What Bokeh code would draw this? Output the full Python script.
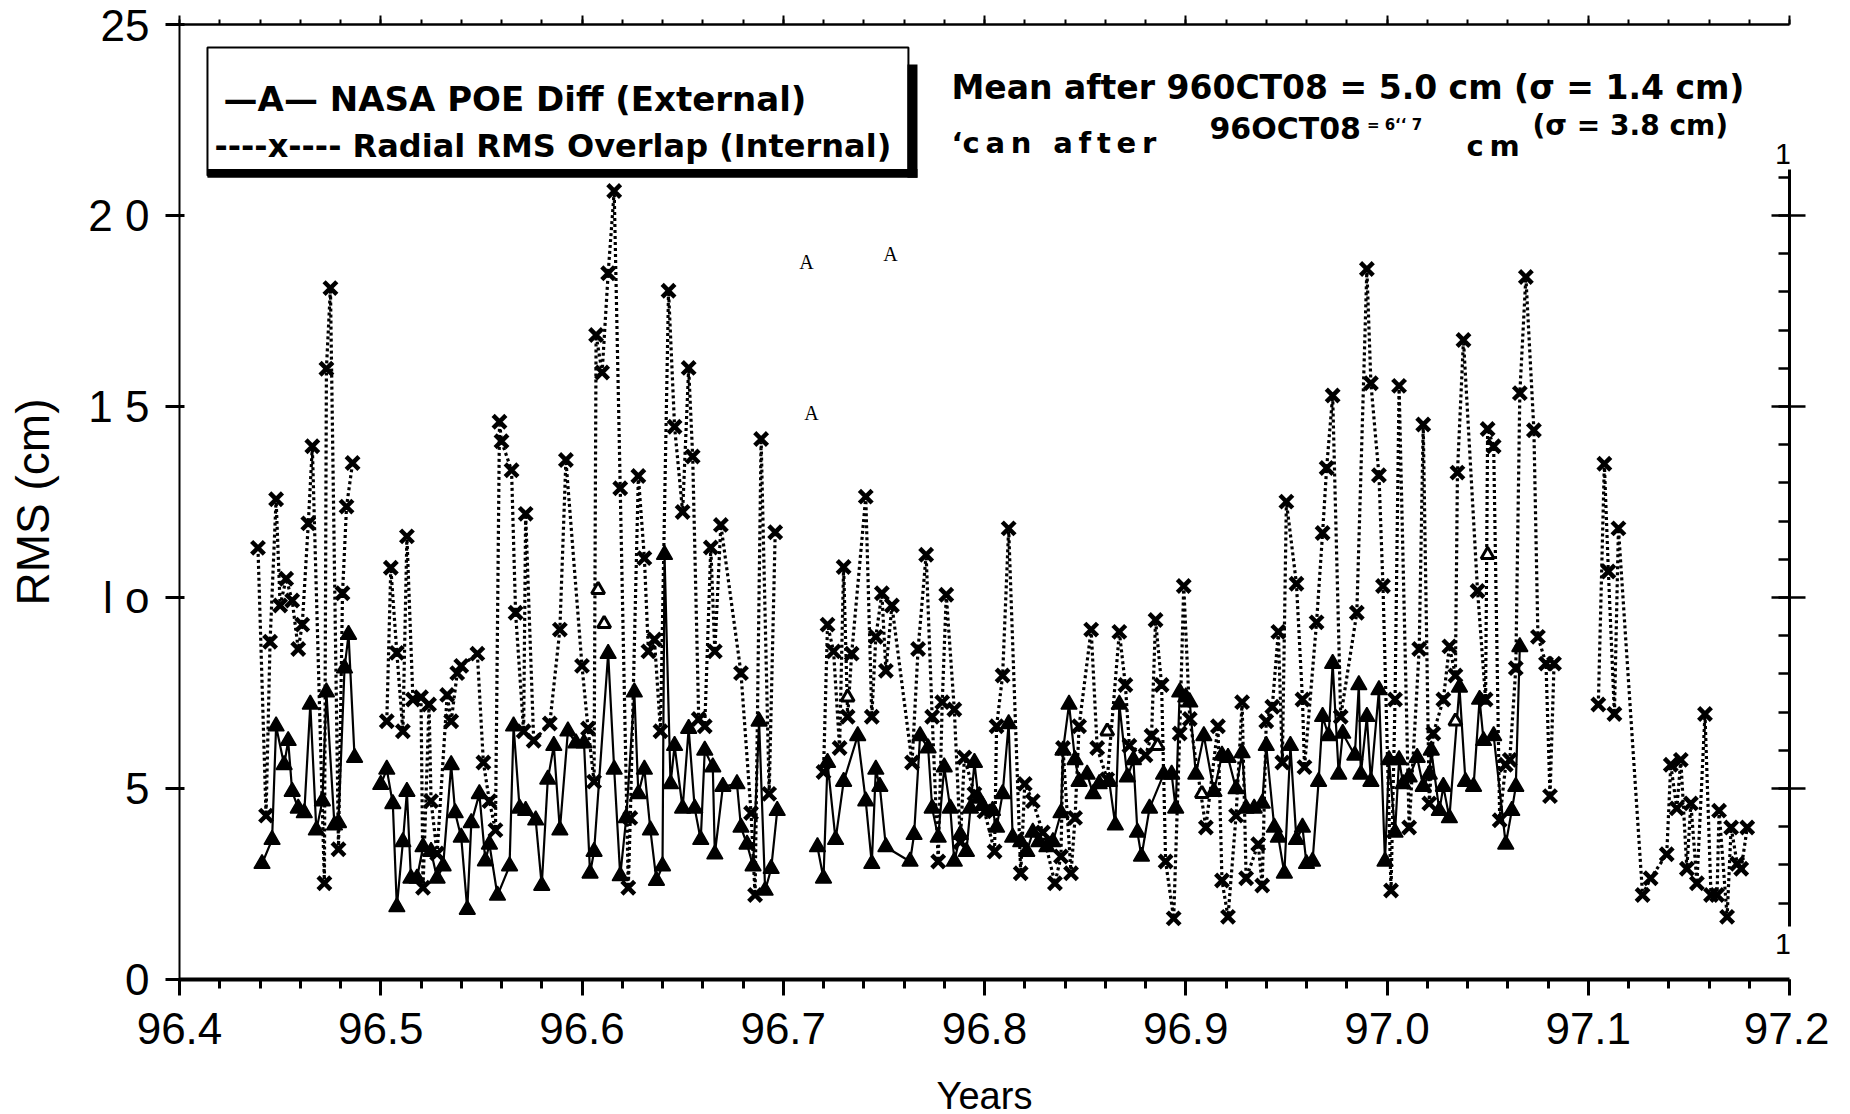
from bokeh.plotting import figure
from bokeh.models import (LinearAxis, Range1d, Label, BoxAnnotation, FixedTicker,
                          NumeralTickFormatter, CustomLabelingPolicy)
from bokeh.embed import file_html
from bokeh.resources import INLINE

# ---------------- data ----------------
overlap_years = [
    96.439, 96.443, 96.445, 96.448, 96.450, 96.453, 96.456, 96.459, 96.461, 96.464,
    96.466, 96.472, 96.473, 96.475, 96.479, 96.481, 96.483, 96.486,
    96.503, 96.505, 96.508, 96.511, 96.513, 96.516, 96.520, 96.521, 96.524, 96.525,
    96.528, 96.533, 96.535, 96.538, 96.540, 96.548, 96.551, 96.554, 96.557, 96.559,
    96.560, 96.565, 96.567, 96.571, 96.572, 96.576, 96.584, 96.589, 96.592, 96.600,
    96.603, 96.606, 96.607, 96.610, 96.613, 96.616, 96.619, 96.623, 96.624, 96.628,
    96.631, 96.633, 96.636, 96.639, 96.643, 96.646, 96.650, 96.653, 96.655, 96.658,
    96.661, 96.664, 96.666, 96.669, 96.679, 96.684, 96.686, 96.689, 96.693, 96.696,
    96.720, 96.722, 96.725, 96.728, 96.730, 96.732, 96.734, 96.741, 96.744, 96.746,
    96.749, 96.751, 96.754, 96.764, 96.767, 96.771, 96.774, 96.777, 96.779, 96.781,
    96.785, 96.788, 96.790, 96.795, 96.800, 96.805, 96.806, 96.809, 96.812, 96.818,
    96.820, 96.824, 96.829, 96.835, 96.838, 96.839, 96.843, 96.845, 96.847, 96.853,
    96.856, 96.861, 96.867, 96.870, 96.872, 96.880, 96.883, 96.885, 96.888, 96.890,
    96.894, 96.897, 96.899, 96.902, 96.910, 96.916, 96.918, 96.921, 96.925, 96.928,
    96.930, 96.936, 96.938, 96.940, 96.943, 96.946, 96.948, 96.950, 96.955, 96.958,
    96.959, 96.965, 96.968, 96.970, 96.973, 96.977, 96.985, 96.990, 96.992, 96.996,
    96.998, 97.002, 97.004, 97.006, 97.011, 97.016, 97.018, 97.021, 97.023, 97.028,
    97.031, 97.034, 97.035, 97.038, 97.045, 97.049, 97.050, 97.053, 97.056, 97.059,
    97.061, 97.064, 97.066, 97.069, 97.073, 97.075, 97.079, 97.081, 97.083,
    97.105, 97.108, 97.110, 97.113, 97.115, 97.127, 97.131, 97.139, 97.141, 97.144,
    97.146, 97.149, 97.151, 97.154, 97.158, 97.161, 97.164, 97.165, 97.169, 97.171,
    97.174, 97.176, 97.179,
]
overlap_rms = [
    11.30, 4.29, 8.84, 12.57, 9.79, 10.49, 9.92, 8.65, 9.29, 11.94,
    13.96, 2.52, 15.99, 18.10, 3.41, 10.11, 12.38, 13.52,
    6.76, 10.78, 8.55, 6.50, 11.60, 7.33, 7.39, 2.40, 7.20, 4.67,
    3.30, 7.45, 6.76, 8.02, 8.21, 8.53, 5.68, 4.67, 3.91, 14.60,
    14.09, 13.33, 9.60, 6.50, 12.19, 6.25, 6.70, 9.16, 13.60, 8.21,
    6.57, 5.18, 16.87, 15.89, 18.49, 20.64, 12.86, 2.40, 4.23, 13.18,
    11.03, 8.59, 8.90, 6.50, 18.03, 14.47, 12.24, 16.01, 13.69, 6.82,
    6.63, 11.31, 8.59, 11.90, 8.02, 4.36, 2.21, 14.15, 4.86, 11.71,
    5.43, 9.29, 8.59, 6.06, 10.80, 6.88, 8.53, 12.64, 6.88, 8.97,
    10.11, 8.08, 9.79, 5.68, 8.65, 11.12, 6.88, 3.09, 7.26, 10.07,
    7.07, 3.60, 5.81, 4.86, 4.40, 3.35, 6.63, 7.96, 11.81, 2.78,
    5.12, 4.67, 3.85, 2.52, 3.22, 6.06, 2.78, 4.23, 6.63, 9.16,
    6.06, 5.24, 9.10, 7.71, 6.12, 5.87, 6.38, 9.41, 7.71, 3.09,
    1.60, 6.44, 10.30, 6.82, 3.98, 6.63, 2.59, 1.64, 4.29, 7.26,
    2.65, 3.54, 2.46, 6.76, 7.14, 9.10, 5.68, 12.51, 10.36, 7.33,
    5.56, 9.35, 11.69, 13.39, 15.29, 6.88, 9.60, 18.60, 15.61, 13.20,
    10.30, 2.33, 7.33, 15.54, 3.98, 8.65, 14.53, 4.61, 6.44, 7.33,
    8.72, 7.96, 13.27, 16.74, 10.17, 7.33, 14.41, 13.96, 4.17, 5.62,
    5.75, 8.15, 15.35, 18.39, 14.38, 8.97, 8.27, 4.80, 8.27,
    7.20, 13.50, 10.68, 6.95, 11.81, 2.21, 2.65, 3.28, 5.62, 4.48,
    5.75, 2.90, 4.61, 2.52, 6.95, 2.21, 2.21, 4.42, 1.64, 3.98,
    3.03, 2.90, 3.98,
]

poe_years = [
    96.441, 96.446, 96.448, 96.452, 96.454, 96.456, 96.459, 96.462, 96.465, 96.468,
    96.471, 96.473, 96.477, 96.479, 96.482, 96.484, 96.487,
    96.500, 96.503, 96.506, 96.508, 96.511, 96.513, 96.515, 96.518, 96.521, 96.525,
    96.528, 96.531, 96.535, 96.537, 96.540, 96.543, 96.545, 96.549, 96.552, 96.554,
    96.558, 96.564, 96.566, 96.569, 96.572, 96.577, 96.580, 96.583, 96.586, 96.589,
    96.593, 96.597, 96.601, 96.604, 96.606, 96.613, 96.616, 96.619, 96.622, 96.626,
    96.628, 96.631, 96.634, 96.637, 96.640, 96.641, 96.644, 96.646, 96.650, 96.653,
    96.656, 96.659, 96.661, 96.665, 96.666, 96.670, 96.677, 96.679, 96.682, 96.685,
    96.688, 96.691, 96.694, 96.697,
    96.717, 96.720, 96.722, 96.726, 96.730, 96.737, 96.741, 96.744, 96.746, 96.748,
    96.751, 96.763, 96.765, 96.768, 96.772, 96.774, 96.777, 96.780, 96.783, 96.785,
    96.788, 96.791, 96.793, 96.795, 96.797, 96.799, 96.804, 96.806, 96.809, 96.812,
    96.814, 96.818, 96.821, 96.824, 96.827, 96.831, 96.834, 96.838, 96.839, 96.842,
    96.845, 96.847, 96.851, 96.854, 96.857, 96.862, 96.865, 96.867, 96.871, 96.874,
    96.876, 96.878, 96.882, 96.889, 96.893, 96.895, 96.897, 96.900, 96.902, 96.905,
    96.909, 96.914, 96.918, 96.921, 96.925, 96.928, 96.930, 96.934, 96.938, 96.940,
    96.944, 96.946, 96.949, 96.952, 96.955, 96.958, 96.960, 96.963, 96.966, 96.968,
    96.971, 96.973, 96.976, 96.978, 96.984, 96.986, 96.987, 96.990, 96.992, 96.996,
    96.999, 97.001, 97.004, 97.006, 97.008, 97.011, 97.015, 97.018, 97.021, 97.022,
    97.026, 97.028, 97.031, 97.036, 97.039, 97.043, 97.046, 97.048, 97.053, 97.059,
    97.062, 97.064, 97.066,
]
poe_rms = [
    3.03, 3.66, 6.63, 5.62, 6.25, 4.92, 4.48, 4.36, 7.20, 3.91,
    4.67, 7.52, 4.04, 4.10, 8.15, 9.03, 5.81,
    5.10, 5.50, 4.60, 1.90, 3.60, 4.92, 2.65, 2.65, 3.47, 3.35,
    2.65, 2.97, 5.62, 4.36, 3.72, 1.83, 4.10, 4.86, 3.10, 3.54,
    2.20, 2.97, 6.63, 4.48, 4.42, 4.17, 2.46, 5.24, 6.12, 3.91,
    6.50, 6.19, 6.19, 2.78, 3.35, 8.53, 5.50, 2.71, 4.23, 7.52,
    4.86, 5.50, 3.91, 2.59, 2.97, 11.12, 5.12, 6.12, 4.48, 6.57,
    4.48, 3.66, 6.00, 5.56, 3.28, 5.05, 5.12, 3.98, 3.54, 2.97,
    6.76, 2.33, 2.90, 4.42,
    3.47, 2.65, 5.68, 3.66, 5.18, 6.38, 4.67, 3.03, 5.50, 5.05,
    3.47, 3.09, 3.79, 6.38, 6.06, 4.48, 3.72, 5.56, 4.48, 3.09,
    3.79, 3.35, 4.48, 5.68, 4.74, 4.55, 4.42, 3.98, 4.86, 6.69,
    3.72, 3.60, 3.35, 3.85, 3.60, 3.47, 3.60, 4.36, 6.00, 7.20,
    5.75, 5.18, 5.37, 4.86, 5.12, 5.18, 4.04, 7.20, 5.30, 5.75,
    3.85, 3.22, 4.48, 5.37, 5.37, 4.48, 7.52, 7.39, 7.26, 5.37,
    6.38, 4.92, 5.87, 5.81, 4.99, 5.93, 4.48, 4.48, 4.61, 6.12,
    3.98, 3.72, 2.78, 6.12, 3.66, 3.98, 3.03, 3.09, 5.18, 6.88,
    6.38, 8.27, 5.37, 6.44, 5.87, 7.71, 5.37, 6.88, 5.18, 7.58,
    3.09, 5.75, 3.85, 5.75, 5.12, 5.30, 5.81, 5.05, 5.37, 6.00,
    4.42, 5.05, 4.23, 7.65, 5.18, 5.05, 7.33, 6.25, 6.38, 3.54,
    4.42, 5.05, 8.71,
]

open_years = [96.608, 96.611, 96.732, 96.861, 96.886, 96.908, 97.034, 97.050]
open_rms = [10.20, 9.31, 7.39, 6.50, 6.12, 4.86, 6.76, 11.12]

x_major_ticks = [96.4, 96.5, 96.6, 96.7, 96.8, 96.9, 97.0, 97.1, 97.2]
y_major_ticks = [0, 5, 10, 15, 20, 25]
y_tick_texts = ["0", "5", "l o", "1 5", "2 0", "25"]

legend_line_1 = "\u2014A\u2014 NASA POE Diff (External)"
legend_line_2 = "----x---- Radial RMS Overlap (Internal)"
note_line_1 = "Mean  after  960CT08  = 5.0 cm (\u03c3 = 1.4 cm)"
note_line_2_parts = ["\u2018c\u2009a\u2009n\u2009\u2009 a\u2009f\u2009t\u2009e\u2009r", "96OCT08",
                     "= 6\u2018\u2018 7", "c\u2009m", "(\u03c3 = 3.8 cm)"]


def split_runs(xs, ys, gap):
    """Break a series into separate runs where the time step is larger than gap."""
    runs_x, runs_y = [[xs[0]]], [[ys[0]]]
    for i in range(1, len(xs)):
        if xs[i] - xs[i - 1] > gap:
            runs_x.append([])
            runs_y.append([])
        runs_x[-1].append(xs[i])
        runs_y[-1].append(ys[i])
    return runs_x, runs_y


def no_labels():
    return CustomLabelingPolicy(code="for (const i of indices) indices.unset(i)")


# ---------------- figure ----------------
p = figure(frame_width=1610, frame_height=955,
           x_range=Range1d(96.4, 97.2), y_range=Range1d(0, 25),
           min_border_left=179, min_border_top=24, min_border_right=40, min_border_bottom=125,
           output_backend="svg", toolbar_location=None)
p.grid.visible = False
p.outline_line_color = None
p.background_fill_color = "white"
p.border_fill_color = "white"

FONT = "Liberation Sans"
minor_x = [round(96.4 + 0.02 * i, 2) for i in range(41)]

# bottom axis
xa = p.xaxis[0]
xa.ticker = FixedTicker(ticks=x_major_ticks, minor_ticks=minor_x)
xa.formatter = NumeralTickFormatter(format="0.0")
xa.axis_line_width = 4
xa.major_tick_in = 0
xa.major_tick_out = 16
xa.major_tick_line_width = 3
xa.minor_tick_in = 0
xa.minor_tick_out = 9
xa.minor_tick_line_width = 3
xa.major_label_text_font = FONT
xa.major_label_text_font_size = "44px"
xa.major_label_text_color = "black"
xa.major_label_standoff = 17
xa.axis_label = "Years"
xa.axis_label_text_font = FONT
xa.axis_label_text_font_size = "38px"
xa.axis_label_text_font_style = "normal"
xa.axis_label_text_color = "black"
xa.axis_label_standoff = 28

# left axis
ya = p.yaxis[0]
ya.ticker = FixedTicker(ticks=y_major_ticks)
ya.major_label_overrides = {t: s for t, s in zip(y_major_ticks, y_tick_texts)}
ya.axis_line_width = 2
ya.major_tick_in = 5
ya.major_tick_out = 14
ya.major_tick_line_width = 3
ya.minor_tick_line_color = None
ya.major_label_text_font = FONT
ya.major_label_text_font_size = "44px"
ya.major_label_text_color = "black"
ya.major_label_standoff = 16
ya.axis_label = "RMS (cm)"
ya.axis_label_text_font = FONT
ya.axis_label_text_font_size = "46px"
ya.axis_label_text_font_style = "normal"
ya.axis_label_text_color = "black"
ya.axis_label_standoff = 26

# top axis (frame line with outward ticks, no labels)
top = LinearAxis(ticker=FixedTicker(ticks=x_major_ticks, minor_ticks=minor_x),
                 axis_line_width=2.5, major_tick_in=0, major_tick_out=9,
                 major_tick_line_width=2, minor_tick_in=0, minor_tick_out=5,
                 minor_tick_line_width=2, major_label_policy=no_labels(),
                 major_label_standoff=0)
p.add_layout(top, "above")

# right axis (partial, ticks across the line, no labels)
right = LinearAxis(bounds=(1.4, 21.2),
                   ticker=FixedTicker(ticks=[5, 10, 15, 20], minor_ticks=list(range(2, 22))),
                   axis_line_width=3, major_tick_in=18, major_tick_out=16,
                   major_tick_line_width=2.5, minor_tick_in=11, minor_tick_out=0,
                   minor_tick_line_width=2.5, major_label_policy=no_labels(),
                   major_label_standoff=0)
p.add_layout(right, "right")

# ---------------- series ----------------
ox, oy = split_runs(overlap_years, overlap_rms, 0.014)
p.multi_line(ox, oy, line_color="black", line_width=3.2, line_dash="3 3")
tx, ty = split_runs(poe_years, poe_rms, 0.0125)
p.multi_line(tx, ty, line_color="black", line_width=2.2)

p.scatter(overlap_years, overlap_rms, marker="x", size=18, line_color="black", line_width=4.5)
p.scatter(poe_years, poe_rms, marker="triangle", size=16, fill_color="black", line_color="black",
          line_width=1.5)
p.scatter(open_years, open_rms, marker="triangle", size=13, fill_color="white", line_color="black",
          line_width=3)

# ---------------- legend box and notes ----------------
p.add_layout(BoxAnnotation(left=96.4139, right=96.7622, top=24.40, bottom=21.05,
                           fill_color=None, line_color="black", line_width=2, line_alpha=1))
p.add_layout(BoxAnnotation(left=96.4139, right=96.7667, top=21.22, bottom=20.99,
                           fill_color="black", fill_alpha=1, line_color=None))
p.add_layout(BoxAnnotation(left=96.7617, right=96.7667, top=23.95, bottom=20.99,
                           fill_color="black", fill_alpha=1, line_color=None))

BOLD = "DejaVu Sans"


def note(x, y, text, size, font=BOLD, style="bold", align="left", baseline="alphabetic"):
    p.add_layout(Label(x=x, y=y, text=text, text_font=font, text_font_style=style,
                       text_font_size=size, text_color="black", text_align=align,
                       text_baseline=baseline))


note(96.4219, 23.04, legend_line_1, "34px")
note(96.4174, 21.81, legend_line_2, "32px")
note(96.7836, 23.35, note_line_1, "33px")
note(96.7836, 21.91, note_line_2_parts[0], "29px")
note(96.9118, 22.28, note_line_2_parts[1], "30px")
note(96.9900, 22.36, note_line_2_parts[2], "15px")
note(97.0395, 21.83, note_line_2_parts[3], "29px")
note(97.0723, 22.36, note_line_2_parts[4], "28px")

# stray scan marks in the original
for sx, sy in [(96.7116, 18.77), (96.7533, 18.98), (96.7140, 14.84)]:
    note(sx, sy, "A", "20px", font="Liberation Serif", style="normal", align="center",
         baseline="middle")
for sx, sy in [(97.197, 21.62), (97.197, 0.92)]:
    note(sx, sy, "1", "30px", font="Liberation Sans", style="normal", align="center",
         baseline="middle")

open("out.html", "w").write(file_html(p, INLINE))
